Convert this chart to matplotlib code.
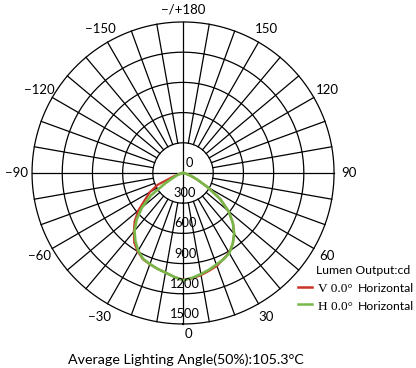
import matplotlib.pyplot as plt
import numpy as np

plt.rcParams['font.family'] = ['Lato', 'DejaVu Sans']

# angle (deg, 0 = straight down) and luminous intensity (cd)
angles = [-90, -80, -70, -65, -60, -55, -50, -45, -40, -35, -30, -25, -20, -15, -10, -5,
          0, 5, 10, 15, 20, 25, 30, 35, 40, 45, 50, 55, 60, 65, 70, 80, 90]
v_values = [0, 20, 100, 280, 380, 460, 580, 680, 760, 845, 900, 945, 965, 985, 1005, 1035,
            1062, 1050, 1030, 1005, 982, 945, 915, 860, 790, 700, 590, 450, 285, 150, 80, 20, 0]
h_values = [0, 15, 60, 100, 200, 390, 530, 650, 750, 825, 890, 940, 962, 985, 1005, 1035,
            1066, 1045, 1020, 995, 968, 948, 920, 860, 790, 700, 590, 450, 280, 160, 90, 20, 0]

ring_values = [300, 600, 900, 1200, 1500]
ring_labels = ['0', '300', '600', '900', '1200', '1500']
angle_ticks = [180, 150, 120, 90, 60, 30, 0, -30, -60, -90, -120, -150]
angle_labels = ['\u2212/+180', '150', '120', '90', '60', '30', '0',
                '\u221230', '\u221260', '\u221290', '\u2212120', '\u2212150']

fig = plt.figure(figsize=(4.16, 3.68), dpi=100)
ax = fig.add_axes([0.077, 0.1196, 0.726, 0.8207], projection='polar')
ax.set_theta_zero_location('S')
ax.set_theta_direction(1)
ax.set_ylim(0, 1500)
ax.grid(False)
ax.set_xticks([])
ax.set_yticks([])
ax.spines['polar'].set_visible(False)

# сетка: кольца и лучи
full = np.linspace(0, 2 * np.pi, 361)
for r in ring_values:
    ax.plot(full, [r] * len(full), color='black', lw=0.9, clip_on=False, zorder=1)
for a in range(-170, 181, 10):
    r0 = 0 if a % 90 == 0 else 300
    ax.plot([np.deg2rad(a)] * 2, [r0, 1500], color='black', lw=0.9, clip_on=False, zorder=1)

# кривые
th = np.deg2rad(angles)
ax.plot(th, v_values, color='#cc3328', lw=1.6, zorder=3)
ax.plot(th, h_values, color='#78b848', lw=1.9, zorder=4)

# подписи углов
for a, lab in zip(angle_ticks, angle_labels):
    r = 1650
    if a == 0:
        a, r = 2, 1600
    if a == 180:
        r = 1620
    ax.text(np.deg2rad(a), r, lab, ha='center', va='center', fontsize=9.5)

# подписи колец
for i, lab in enumerate(ring_labels):
    dx = 4.5 if i == 0 else 1.5
    ax.annotate(lab, xy=(0, i * 300), xytext=(dx, 7.2), textcoords='offset points',
                ha='center', va='center', fontsize=9.3, zorder=5)

# легенда
fig.text(316 / 416, 1 - 274 / 368, 'Lumen Output:cd', fontsize=8.8, ha='left', va='baseline')
fig.add_artist(plt.Line2D([298 / 416, 312 / 416], [1 - 287 / 368] * 2, color='#cc3328', lw=1.8))
fig.add_artist(plt.Line2D([298 / 416, 312 / 416], [1 - 304 / 368] * 2, color='#78b848', lw=1.8))
fig.text(318 / 416, 1 - 292.5 / 368, 'V 0.0\u00b0', fontsize=9.5, family='Liberation Serif',
         ha='left', va='baseline')
fig.text(358 / 416, 1 - 292.5 / 368, 'Horizontal', fontsize=8.8, ha='left', va='baseline')
fig.text(318 / 416, 1 - 309.5 / 368, 'H 0.0\u00b0', fontsize=9.5, family='Liberation Serif',
         ha='left', va='baseline')
fig.text(358 / 416, 1 - 309.5 / 368, 'Horizontal', fontsize=8.8, ha='left', va='baseline')

fig.text(186 / 416, 1 - 364 / 368, 'Average Lighting Angle(50%):105.3\u00b0C', fontsize=10.3,
         ha='center', va='baseline')

fig.savefig('out.png', dpi=100)
